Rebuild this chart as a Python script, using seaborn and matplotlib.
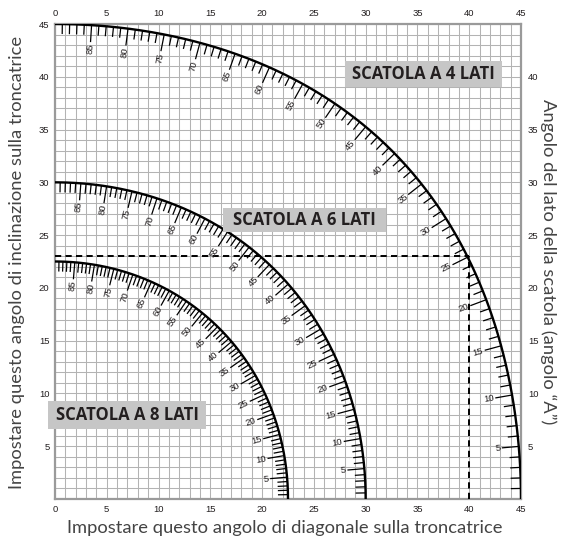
import numpy as np
import pandas as pd
import matplotlib
matplotlib.use("Agg")
import matplotlib.pyplot as plt
import seaborn as sns
from matplotlib.patches import Rectangle
from matplotlib.collections import LineCollection

# Number of sides of each box and the caption drawn next to its curve
sides = [4, 6, 8]
box_titles = ["SCATOLA A 4 LATI", "SCATOLA A 6 LATI", "SCATOLA A 8 LATI"]
# Caption boxes (x0, y0, x1, y1) in chart degrees
box_extents = [(28.0, 39.0, 43.2, 41.5), (16.2, 25.3, 32.0, 27.6), (-0.7, 6.6, 14.6, 9.3)]

# Side angle "A" of the box: one tick per degree, a number every 5 degrees
side_angles = np.arange(1, 90)

# Axis scales
axis_ticks = np.arange(0, 46, 5)
left_ticks = np.arange(5, 46, 5)
right_ticks = np.arange(5, 41, 5)

# Worked example: 4-sided box, A = 25 deg
guide_miter = 40
guide_bevel = 23

W, H = 562, 541
AX_L, AX_R, AX_T, AX_B = 55, 521, 24, 499


def compound_cut(n, a_deg):
    """Saw settings (miter, bevel) for an n-sided box whose sides lean at a_deg."""
    half = np.pi / n
    a = np.radians(a_deg)
    miter = np.degrees(np.arcsin(np.cos(a) * np.sin(half)))
    bevel = np.degrees(np.arctan(np.sin(a) * np.tan(half)))
    return miter, bevel


sns.set_style("white")
plt.rcParams["font.family"] = ["Liberation Sans", "DejaVu Sans"]

fig = plt.figure(figsize=(W / 100, H / 100), dpi=100)
ax = fig.add_axes([AX_L / W, 1 - AX_B / H, (AX_R - AX_L) / W, (AX_B - AX_T) / H])
ax.set_xlim(0, 45)
ax.set_ylim(0, 45)

grid_col = "#b3b3b3"
ax.set_xticks(np.arange(0, 46, 1), minor=True)
ax.set_yticks(np.arange(0, 46, 1), minor=True)
ax.set_xticks(axis_ticks)
ax.set_yticks(left_ticks)
ax.grid(True, which="both", color=grid_col, lw=0.75)
ax.set_axisbelow(True)
for sp in ax.spines.values():
    sp.set_color("#9a9a9a")
    sp.set_linewidth(1.6)
ax.tick_params(axis="both", which="both", length=0, labelsize=6.8, colors="#231f20", pad=4)
ax.tick_params(axis="x", top=True, labeltop=True)

ax2 = ax.twinx()
ax2.set_ylim(0, 45)
ax2.set_yticks(right_ticks)
ax2.tick_params(axis="y", length=0, labelsize=6.8, colors="#231f20", pad=5)
for sp in ax2.spines.values():
    sp.set_visible(False)

# Curves
rows = []
fine = np.linspace(0, 90, 361)
for n in sides:
    mx, bv = compound_cut(n, fine)
    rows.append(pd.DataFrame({"miter": mx, "bevel": bv, "sides": n}))
curves = pd.concat(rows, ignore_index=True)
sns.lineplot(data=curves, x="miter", y="bevel", units="sides", estimator=None,
             sort=False, color="black", lw=1.7, ax=ax, zorder=4, legend=False)
ax.set_xlabel("")
ax.set_ylabel("")

# Degree ticks along each curve, pointing inward
sx = (AX_R - AX_L) / 45.0
sy = (AX_B - AX_T) / 45.0
segs = []
for n in sides:
    x0, y0 = compound_cut(n, side_angles)
    xa, ya = compound_cut(n, side_angles + 0.01)
    xb, yb = compound_cut(n, side_angles - 0.01)
    tx = (xa - xb) * sx
    ty = (ya - yb) * sy
    norm = np.hypot(tx, ty)
    tx, ty = tx / norm, ty / norm
    nx, ny = -ty, tx  # inward normal (pixels)
    for a, px, py, ix, iy, ux, uy in zip(side_angles, x0, y0, nx, ny, tx, ty):
        major = a % 5 == 0
        length = 17.0 if major else 10.0
        segs.append([(px, py), (px + length * ix / sx, py + length * iy / sy)])
        if major:
            gap = length + 1.5
            rot = np.degrees(np.arctan2(-ux, uy))
            ax.text(px + gap * ix / sx, py + gap * iy / sy, f"{a}", fontsize=6.8,
                    rotation=rot, rotation_mode="anchor", ha="right", va="center",
                    color="#231f20", zorder=5)
ax.add_collection(LineCollection(segs, colors="black", linewidths=0.9, zorder=4))

# Worked example guide lines
ax.plot([0, guide_miter], [guide_bevel, guide_bevel], color="black", lw=1.4,
        ls=(0, (3.2, 2.2)), zorder=3)
ax.plot([guide_miter, guide_miter], [0, guide_bevel], color="black", lw=1.4,
        ls=(0, (3.2, 2.2)), zorder=3)

# Caption boxes
for title, (bx0, by0, bx1, by1) in zip(box_titles, box_extents):
    ax.add_patch(Rectangle((bx0, by0), bx1 - bx0, by1 - by0, facecolor="#c6c6c6",
                           edgecolor="none", zorder=6, clip_on=False))
    ax.text((bx0 + bx1) / 2, (by0 + by1) / 2, title, ha="center", va="center",
            fontsize=12, fontweight="bold", color="#231f20", zorder=7,
            family=["Open Sans", "DejaVu Sans"])

label_font = dict(family=["Lato", "DejaVu Sans"], fontweight="normal", color="#444444",
                  fontsize=13.2)
fig.text(17 / W, 1 - 262 / H, "Impostare questo angolo di inclinazione sulla troncatrice",
         rotation=90, ha="center", va="center", **label_font)
fig.text(548 / W, 1 - 262 / H, "Angolo del lato della scatola (angolo \u201cA\u201d)",
         rotation=-90, ha="center", va="center", **label_font)
fig.text(285 / W, 1 - 528 / H, "Impostare questo angolo di diagonale sulla troncatrice",
         ha="center", va="center", **label_font)

fig.savefig("out.png", dpi=100)
